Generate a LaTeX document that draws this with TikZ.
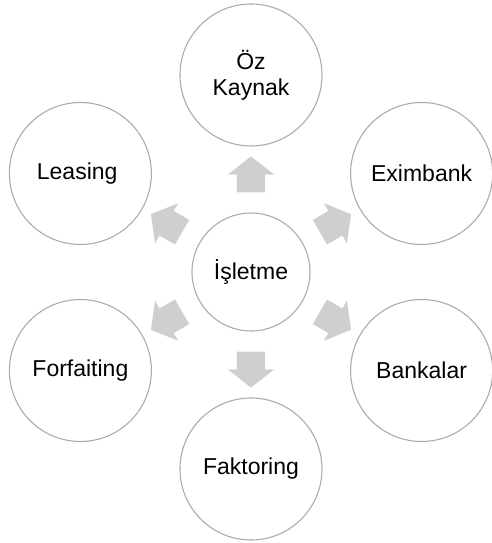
\documentclass[tikz,border=0pt]{standalone}
\usepackage{fontspec}
\setmainfont{Liberation Sans}
\usetikzlibrary{shapes.arrows,calc}

\begin{document}
\begin{tikzpicture}[x=1pt,y=1pt,
  ring/.style={circle,draw=gray!65,line width=1.1pt,fill=white,align=center,
    inner sep=0pt,font=\fontsize{23}{26}\selectfont},
  blockarrow/.style={single arrow,draw=none,fill=gray!38,
    inner xsep=0pt,inner ysep=14pt,minimum height=36pt,
    single arrow head extend=9pt,single arrow tip angle=104}]
\useasboundingbox (0,0) rectangle (492,543);

% Central circle
\node[ring,minimum size=118pt] (center) at (251,271) {İşletme};

% Outer circles and block arrows
\foreach \ang/\name/\txt in {
  90/ozkaynak/{Öz\\Kaynak},
  30/eximbank/Eximbank,
  -30/bankalar/Bankalar,
  -90/faktoring/Faktoring,
  210/forfaiting/Forfaiting,
  150/leasing/Leasing
} {
  \node[ring,minimum size=142pt] (\name) at ($(center)+(\ang:197)$) {\txt};
  \node[blockarrow,rotate=\ang] (arrow-\name) at ($(center)+(\ang:92)$) {};
}
\end{tikzpicture}
\end{document}
